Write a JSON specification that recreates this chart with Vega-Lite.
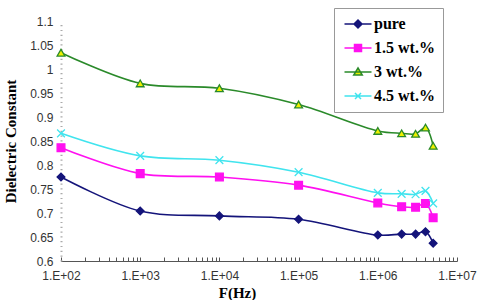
{
  "$schema": "https://vega.github.io/schema/vega-lite/v6.json",
  "width": 396,
  "height": 240,
  "autosize": {"type": "none"},
  "padding": {"left": 61, "top": 21, "right": 23, "bottom": 39},
  "background": "white",
  "config": {"view": {"stroke": null}, "font": "Liberation Sans"},
  "data": {
    "values": [
      {"f": 100, "eps": 0.775, "series": "pure"},
      {"f": 1000, "eps": 0.704, "series": "pure"},
      {"f": 10000, "eps": 0.694, "series": "pure"},
      {"f": 100000, "eps": 0.687, "series": "pure"},
      {"f": 1000000, "eps": 0.654, "series": "pure"},
      {"f": 2000000, "eps": 0.656, "series": "pure"},
      {"f": 3000000, "eps": 0.656, "series": "pure"},
      {"f": 4000000, "eps": 0.661, "series": "pure"},
      {"f": 5000000, "eps": 0.637, "series": "pure"},
      {"f": 100, "eps": 0.836, "series": "1.5 wt.%"},
      {"f": 1000, "eps": 0.782, "series": "1.5 wt.%"},
      {"f": 10000, "eps": 0.775, "series": "1.5 wt.%"},
      {"f": 100000, "eps": 0.758, "series": "1.5 wt.%"},
      {"f": 1000000, "eps": 0.721, "series": "1.5 wt.%"},
      {"f": 2000000, "eps": 0.713, "series": "1.5 wt.%"},
      {"f": 3000000, "eps": 0.712, "series": "1.5 wt.%"},
      {"f": 4000000, "eps": 0.720, "series": "1.5 wt.%"},
      {"f": 5000000, "eps": 0.690, "series": "1.5 wt.%"},
      {"f": 100, "eps": 1.034, "series": "3 wt.%"},
      {"f": 1000, "eps": 0.970, "series": "3 wt.%"},
      {"f": 10000, "eps": 0.960, "series": "3 wt.%"},
      {"f": 100000, "eps": 0.926, "series": "3 wt.%"},
      {"f": 1000000, "eps": 0.871, "series": "3 wt.%"},
      {"f": 2000000, "eps": 0.866, "series": "3 wt.%"},
      {"f": 3000000, "eps": 0.865, "series": "3 wt.%"},
      {"f": 4000000, "eps": 0.878, "series": "3 wt.%"},
      {"f": 5000000, "eps": 0.840, "series": "3 wt.%"},
      {"f": 100, "eps": 0.866, "series": "4.5 wt.%"},
      {"f": 1000, "eps": 0.819, "series": "4.5 wt.%"},
      {"f": 10000, "eps": 0.810, "series": "4.5 wt.%"},
      {"f": 100000, "eps": 0.785, "series": "4.5 wt.%"},
      {"f": 1000000, "eps": 0.742, "series": "4.5 wt.%"},
      {"f": 2000000, "eps": 0.740, "series": "4.5 wt.%"},
      {"f": 3000000, "eps": 0.739, "series": "4.5 wt.%"},
      {"f": 4000000, "eps": 0.746, "series": "4.5 wt.%"},
      {"f": 5000000, "eps": 0.720, "series": "4.5 wt.%"}
    ]
  },
  "encoding": {
    "x": {
      "field": "f",
      "type": "quantitative",
      "scale": {"type": "log", "domain": [100, 10000000]},
      "axis": {
        "title": "F(Hz)",
        "values": [100,200,300,400,500,600,700,800,900,1000,2000,3000,4000,5000,6000,7000,8000,9000,10000,20000,30000,40000,50000,60000,70000,80000,90000,100000,200000,300000,400000,500000,600000,700000,800000,900000,1000000,2000000,3000000,4000000,5000000,6000000,7000000,8000000,9000000,10000000],
        "labelExpr": "indexof(['100','1000','10000','100000','1000000','10000000'], '' + datum.value) >= 0 ? '1.E+0' + round(log(datum.value) / LN10) : ''",
        "labelOverlap": false,
        "labelFlush": false,
        "grid": false,
        "domainColor": "#555",
        "tickColor": "#555",
        "tickSize": -4,
        "labelPadding": 13,
        "labelFontSize": 12,
        "labelColor": "#333",
        "labelFont": "Liberation Sans",
        "titleFont": "Liberation Serif",
        "titleFontWeight": "bold",
        "titleFontSize": 15,
        "titleColor": "black",
        "titleX": 176,
        "titleY": 36,
        "titleAlign": "center",
        "titleBaseline": "alphabetic"
      }
    },
    "y": {
      "field": "eps",
      "type": "quantitative",
      "scale": {"domain": [0.6, 1.1], "nice": false, "zero": false},
      "axis": {
        "title": "Dielectric Constant",
        "values": [0.6, 0.65, 0.7, 0.75, 0.8, 0.85, 0.9, 0.95, 1, 1.05, 1.1],
        "labelExpr": "format(datum.value, '~g')",
        "grid": false,
        "ticks": false,
        "domainDash": [1.2, 3.6],
        "domainWidth": 2,
        "domainColor": "#aaa",
        "labelPadding": 8,
        "labelFontSize": 12,
        "labelColor": "#333",
        "labelFont": "Liberation Sans",
        "titleFont": "Liberation Serif",
        "titleFontWeight": "bold",
        "titleFontSize": 15,
        "titleColor": "black",
        "titleX": -46,
        "titleY": 120,
        "titleAngle": -90,
        "titleAlign": "center",
        "titleBaseline": "alphabetic"
      }
    }
  },
  "layer": [
    {
      "mark": {"type": "line", "interpolate": "catmull-rom", "strokeWidth": 1.6},
      "encoding": {
        "stroke": {
          "field": "series", "type": "nominal",
          "scale": {"domain": ["pure", "1.5 wt.%", "3 wt.%", "4.5 wt.%"], "range": ["#14147a", "#ff10f0", "#2a8a2a", "#40e4ee"]},
          "legend": null
        }
      }
    },
    {
      "mark": {"type": "point", "opacity": 1, "strokeWidth": 1.3, "size": 60},
      "encoding": {
        "stroke": {
          "field": "series", "type": "nominal",
          "scale": {"domain": ["pure", "1.5 wt.%", "3 wt.%", "4.5 wt.%"], "range": ["#14147a", "#ff10f0", "#2a8a2a", "#40e4ee"]},
          "legend": null
        },
        "fill": {
          "field": "series", "type": "nominal",
          "scale": {"domain": ["pure", "1.5 wt.%", "3 wt.%", "4.5 wt.%"], "range": ["#14147a", "#ff10f0", "#eef000", "transparent"]},
          "legend": null
        },
        "shape": {
          "field": "series", "type": "nominal",
          "scale": {"domain": ["pure", "1.5 wt.%", "3 wt.%", "4.5 wt.%"], "range": ["diamond", "square", "triangle-up", "M-1,-1L1,1M-1,1L1,-1"]},
          "legend": null
        }
      }
    },
    {
      "mark": {"type": "point", "opacity": 0, "strokeWidth": 1.5, "size": 100},
      "encoding": {
        "stroke": {
          "field": "series", "type": "nominal",
          "scale": {"domain": ["pure", "1.5 wt.%", "3 wt.%", "4.5 wt.%"], "range": ["#14147a", "#ff10f0", "#2a8a2a", "#40e4ee"]},
          "legend": {"orient": "none", "legendX": 273, "legendY": -13, "title": null, "strokeColor": "#999", "padding": 8, "symbolOffset": 8, "labelOffset": 8, "labelFont": "Liberation Serif", "labelFontWeight": "bold", "labelFontSize": 16, "labelColor": "black", "rowPadding": 8, "symbolOpacity": 1, "symbolStrokeWidth": 1.5, "symbolSize": 100}
        },
        "fill": {
          "field": "series", "type": "nominal",
          "scale": {"domain": ["pure", "1.5 wt.%", "3 wt.%", "4.5 wt.%"], "range": ["#14147a", "#ff10f0", "#eef000", "transparent"]},
          "legend": {"orient": "none", "legendX": 273, "legendY": -13, "title": null, "strokeColor": "#999", "padding": 8, "symbolOffset": 8, "labelOffset": 8, "labelFont": "Liberation Serif", "labelFontWeight": "bold", "labelFontSize": 16, "labelColor": "black", "rowPadding": 8, "symbolOpacity": 1, "symbolStrokeWidth": 1.5, "symbolSize": 100}
        },
        "shape": {
          "field": "series", "type": "nominal",
          "scale": {"domain": ["pure", "1.5 wt.%", "3 wt.%", "4.5 wt.%"], "range": ["M-2.7,0L2.7,0M-0.8,0L0,-0.8L0.8,0L0,0.8Z", "M-2.7,0L2.7,0M-0.7,-0.7L0.7,-0.7L0.7,0.7L-0.7,0.7Z", "M-2.7,0L2.7,0M0,-0.8L0.85,0.6L-0.85,0.6Z", "M-2.7,0L2.7,0M-0.6,-0.6L0.6,0.6M-0.6,0.6L0.6,-0.6"]},
          "legend": {"orient": "none", "legendX": 273, "legendY": -13, "title": null, "strokeColor": "#999", "padding": 8, "symbolOffset": 8, "labelOffset": 8, "labelFont": "Liberation Serif", "labelFontWeight": "bold", "labelFontSize": 16, "labelColor": "black", "rowPadding": 8, "symbolOpacity": 1, "symbolStrokeWidth": 1.5, "symbolSize": 100}
        }
      }
    }
  ],
  "resolve": {"scale": {"shape": "independent", "stroke": "independent", "fill": "independent"}}
}
